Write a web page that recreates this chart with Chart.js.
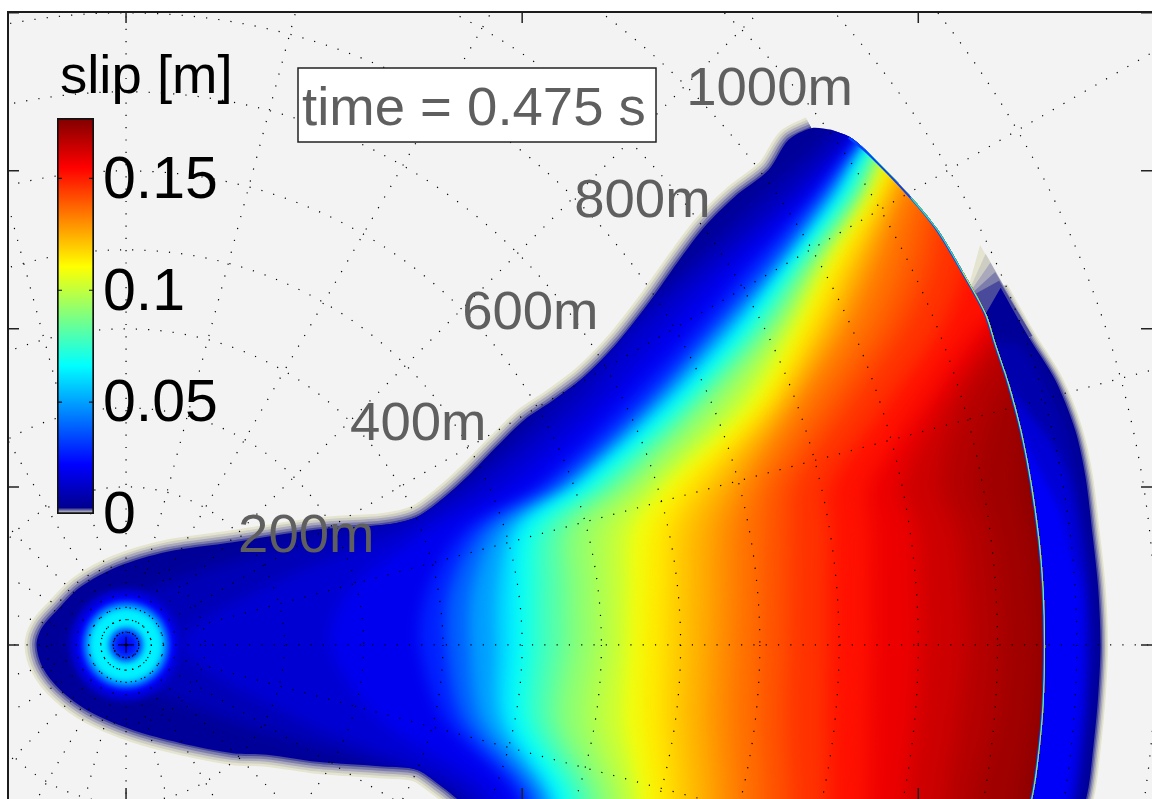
<!DOCTYPE html>
<html>
<head>
<meta charset="utf-8">
<title>slip map</title>
<style>
  html, body { margin: 0; background: #fff; }
  #wrap { position: relative; width: 1152px; height: 799px; overflow: hidden; }
  #wrap canvas { position: absolute; left: 0; top: 0; }
</style>
<script src="https://cdn.jsdelivr.net/npm/chart.js@4"></script>
</head>
<body>
<div id="wrap">
  <canvas id="map" width="1152" height="799"></canvas>
  <canvas id="bar" width="240" height="560"></canvas>
</div>
<script>
// axes, metres
const xTicks = [0, 500, 1000];
const yTicks = [-200, 0, 200, 400, 600, 800];
const ringRadii = [100, 200, 300, 400, 500, 600, 700, 800, 900, 1000, 1100, 1200, 1300];
const innerRings = [16, 32, 47];
const rayAngles = [0, 15, 30, 45, 60, 75, 90, 105, 120, 135, 150, 165, 180, 195, 210, 225, 240, 255, 270, 285, 300, 315, 330, 345];
const ringLabels = [200, 400, 600, 800, 1000];
const titleText = 'slip [m]';
const timeText = 'time = 0.475 s';

// colour bar
const slipMax = 0.177;
const barTicks = [0, 0.05, 0.1, 0.15];

// rupture outline, [x, y] in metres
const mainEdge = [[890,652],[865,654],[836,639],[811,601],[768,567],[730,529],[696,484],[663,437],[620,382],[578,339],[537,308],[503,285],[468,251],[436,218],[402,187],[367,162],[326,152],[241,146],[135,130],[52,118],[-11,99],[-58,73],[-87,44],[-106,22],[-113,0],[-105,-29],[-83,-57],[-45,-85],[9,-108],[68,-124],[135,-137],[178,-139],[241,-148],[326,-154],[367,-158],[393,-175],[417,-194],[460,-234],[598,-323]];
const mainFront = [[890,652],[913,643],[937,623],[991,567],[1025,525],[1056,473],[1085,420],[1098,380],[1114,332],[1130,272],[1143,205],[1153,133],[1158,73],[1160,0],[1158,-78],[1152,-142],[1144,-194],[1122,-272],[1050,-340]];
const lobeEdge = [[1104,452],[1139,390],[1173,335],[1198,272],[1211,213],[1220,139],[1227,73],[1230,0],[1227,-66],[1221,-129],[1212,-194],[1179,-285]];
const lobeInner = [[1104,-285],[1141,0],[1066,386]];
const lobeTips = [[1078,506],[1085,495],[1091,484],[1097,472],[1102,461]];
const lobeWedge = [[1144,391],[1104,373],[1059,437]];

// slip contours in the lobe ahead of the front
const lobeLevels = [0.004, 0.012, 0.019];
const lobeLine1 = [[1129,380],[1160,329],[1187,266],[1201,209],[1211,137],[1218,73],[1221,0],[1218,-66],[1212,-129],[1203,-194],[1167,-285]];
const lobeLine2 = [[1167,259],[1186,222],[1195,190],[1205,133],[1212,70],[1215,0],[1212,-70],[1206,-133],[1197,-194],[1160,-285]];
const lobeLine3 = [[1179,171],[1192,120],[1205,70],[1207,0],[1205,-70],[1198,-133],[1189,-194],[1154,-285]];

// slip contours of the main patch: x (m) where each level is crossed at each rowY
const rowY = [-195, -95, 0, 70, 146, 200, 300, 400, 475, 565, 627, 700];
const slipLevels = [0.005, 0.011, 0.016, 0.022, 0.034, 0.044, 0.055, 0.060, 0.066, 0.072, 0.078, 0.083, 0.089, 0.094, 0.099, 0.104, 0.111, 0.117, 0.122, 0.127, 0.133, 0.138, 0.143, 0.149, 0.155, 0.161, 0.166, 0.170, 0.173];
const line005 = [422,131,-71,30,270,415,529,624,706,800,870,946];
const line011 = [441,220,68,169,346,441,563,649,731,832,895,965];
const line016 = [466,321,258,283,384,479,595,684,756,851,908,971];
const line022 = [494,402,371,381,427,519,624,718,782,866,914,977];
const line034 = [510,425,405,409,448,538,649,740,803,876,922,984];
const line044 = [524,448,434,437,468,554,662,753,819,886,929,996];
const line055 = [537,470,465,466,487,567,675,766,828,895,934,1003];
const line060 = [543,481,480,481,496,573,682,773,832,899,937,1006];
const line066 = [549,492,494,495,505,578,688,779,836,903,939,1009];
const line072 = [562,508,512,512,520,591,699,789,843,909,944,1015];
const line078 = [574,523,529,529,535,604,710,798,850,915,949,1021];
const line083 = [587,538,548,548,551,617,720,808,857,922,954,1025];
const line089 = [600,554,566,566,566,630,730,817,864,928,958,1028];
const line094 = [616,578,589,589,590,646,747,826,871,933,963,1034];
const line099 = [631,601,611,611,614,662,763,835,878,937,968,1040];
const line104 = [647,626,632,633,637,679,781,845,885,942,973,1044];
const line111 = [663,650,652,654,660,696,799,855,891,946,977,1047];
const line117 = [689,679,681,683,688,720,813,870,906,956,987,1057];
const line122 = [715,707,710,711,715,744,826,885,920,965,996,1066];
const line127 = [742,735,738,740,743,767,839,900,935,975,1009,1076];
const line133 = [769,763,766,768,770,789,851,915,949,984,1021,1085];
const line138 = [803,798,800,802,804,813,879,947,981,1009,1047,1110];
const line143 = [838,833,836,837,838,842,908,978,1013,1034,1072,1135];
const line149 = [886,885,886,886,888,886,956,1028,1059,1091,1129,1179];
const line155 = [937,939,941,941,941,937,1004,1076,1154,1205,1230,1268];
const line161 = [984,996,1002,1000,996,977,1028,1104,1179,1230,1268,1306];
const line166 = [1034,1050,1061,1058,1050,1028,1053,1122,1198,1242,1280,1318];
const line170 = [1072,1097,1105,1101,1091,1072,1097,1154,1217,1255,1293,1331];
const line173 = [1129,1148,1155,1151,1141,1131,1141,1192,1242,1280,1318,1343];
const mainLines = [line005,line011,line016,line022,line034,line044,line055,line060,line066,line072,line078,line083,line089,line094,line099,line104,line111,line117,line122,line127,line133,line138,line143,line149,line155,line161,line166,line170,line173];

// rings of slip round the hypocentre: radius (m) and slip, outer to inner
const hypoRadii = [72, 66, 61, 56, 52, 48, 44, 24, 21, 18, 14, 9];
const hypoSlip = [0.011, 0.016, 0.022, 0.034, 0.044, 0.055, 0.064, 0.055, 0.044, 0.034, 0.028, 0.024];

const jetStops = [[0,[0,0,143]],[0.125,[0,0,255]],[0.375,[0,255,255]],[0.625,[255,255,0]],[0.875,[255,0,0]],[1,[128,0,0]]];
const haloColors = ['#e4e4d0', '#cdcdc4', '#a9a9bb', '#7d7dac', '#4a4a9c'];
const FONT = '"Liberation Sans", Arial, sans-serif';

function jet(slip){
  const t = Math.min(1, slip / slipMax);
  for(let i = 1; i < jetStops.length; i++){
    const [t1, c1] = jetStops[i];
    if(t <= t1){
      const [t0, c0] = jetStops[i-1];
      const f = (t - t0) / (t1 - t0);
      const c = c0.map((v, k) => Math.round(v + (c1[k] - v) * f));
      return `rgb(${c[0]},${c[1]},${c[2]})`;
    }
  }
  return 'rgb(128,0,0)';
}

const pts = list => list.map(p => ({x: p[0], y: p[1]}));

function shape(label, data, color, extra){
  return Object.assign({label, data, showLine: true, fill: 'shape', backgroundColor: color, borderWidth: 0, pointRadius: 0, tension: 0.3}, extra);
}
function stroke(label, data, color, width, extra){
  return Object.assign({label, data, showLine: true, fill: false, borderColor: color, borderWidth: width, borderJoinStyle: 'round', pointRadius: 0, tension: 0.3}, extra);
}

// draw order, bottom first
const layers = [];
const mainWidths = [24, 19, 14, 9, 4];
const lobeWidths = [15, 12, 9, 6, 3];
haloColors.forEach((c, i) => layers.push(stroke('halo' + i, pts(mainEdge.slice(1)), c, mainWidths[i])));
haloColors.forEach((c, i) => layers.push(stroke('lobeHalo' + i, pts(lobeEdge), c, lobeWidths[i])));
lobeTips.forEach((tip, i) => layers.push(shape('wedge' + i, pts([tip].concat(lobeWedge, [tip])), haloColors[i], {tension: 0})));
layers.push(shape('lobeBase', pts(lobeEdge.concat(lobeInner)), jet(0.002)));
[lobeLine1, lobeLine2, lobeLine3].forEach((line, i) => {
  layers.push(shape('lobe' + i, pts(line.concat(lobeInner)), jet(lobeLevels[i] + 0.002), {clipTo: 'lobeBase', blurPx: 4}));
});
layers.push(shape('mainBase', pts(mainEdge.concat(mainFront.slice().reverse())), jet(0.002)));
mainLines.forEach((line, i) => {
  const next = i + 1 < slipLevels.length ? slipLevels[i+1] : slipLevels[i] + 0.004;
  const data = [{x: 1400, y: -300}, {x: line[0], y: -300}]
    .concat(rowY.map((y, j) => ({x: line[j], y})))
    .concat([{x: 1400, y: 700}, {x: 1400, y: -300}]);
  layers.push(shape('slip' + slipLevels[i], data, jet((slipLevels[i] + next) / 2), {clipTo: 'mainBase', blurPx: slipLevels[i] < 0.111 ? 7 : 10}));
});
hypoRadii.forEach((r, i) => {
  layers.push({label: 'hypo' + i, data: [{x: 0, y: 0}], showLine: false, backgroundColor: jet(hypoSlip[i]), borderWidth: 0,
    pointRadius: ctx => r * (ctx.chart.scales.x.getPixelForValue(1) - ctx.chart.scales.x.getPixelForValue(0)),
    clipTo: 'mainBase', blurPx: 2.5});
});
layers.push(stroke('front0', pts(mainFront.slice(1)), '#0040ff', 4, {clipTo: 'mainBase'}));
layers.push(stroke('front1', pts(mainFront.slice(3)), '#20e0d0', 2.4, {clipTo: 'mainBase'}));
layers.push(stroke('front2', pts(mainFront.slice(5)), '#d8e840', 1.2, {clipTo: 'mainBase'}));

// datasets paint from last to first
const mapDatasets = layers.slice().reverse();

let activeClip = null;
function applyLayer(chart, index){
  const ds = chart.data.datasets[index];
  if(!ds) return;
  const ctx = chart.ctx;
  const want = ds.clipTo || null;
  if(want !== activeClip){
    if(activeClip) ctx.restore();
    activeClip = want;
    if(want){
      const i = chart.data.datasets.findIndex(d => d.label === want);
      ctx.save();
      ctx.beginPath();
      chart.getDatasetMeta(i).dataset.path(ctx);
      ctx.closePath();
      ctx.clip();
    }
  }
  ctx.filter = ds.blurPx ? `blur(${ds.blurPx}px)` : 'none';
}

const layerPlugin = {
  id: 'layers',
  beforeDatasetsDraw(chart){
    activeClip = null;
    applyLayer(chart, chart.data.datasets.length - 1);
  },
  afterDatasetDraw(chart, args){
    applyLayer(chart, args.index - 1);
  },
  afterDatasetsDraw(chart){
    const ctx = chart.ctx;
    if(activeClip) ctx.restore();
    activeClip = null;
    ctx.filter = 'none';
  }
};

const framePlugin = {
  id: 'frame',
  beforeDraw(chart){
    const {ctx, chartArea: a} = chart;
    ctx.save();
    ctx.fillStyle = '#f3f3f3';
    ctx.fillRect(a.left, a.top, a.right - a.left, a.bottom - a.top);
    ctx.restore();
  },
  afterDraw(chart){
    const {ctx, chartArea: a, scales: {x, y}} = chart;
    const cx = x.getPixelForValue(0), cy = y.getPixelForValue(0);
    const sx = x.getPixelForValue(1) - cx, sy = cy - y.getPixelForValue(1);
    const far = 2000;
    ctx.save();
    ctx.beginPath();
    ctx.rect(a.left, a.top, a.right - a.left, a.bottom - a.top);
    ctx.clip();
    ctx.strokeStyle = '#000';
    ctx.lineWidth = 1.2;
    // polar grid
    ctx.setLineDash([1.2, 11.1]);
    rayAngles.forEach(deg => {
      const r = deg * Math.PI / 180;
      ctx.beginPath();
      ctx.moveTo(cx, cy);
      ctx.lineTo(cx + far * Math.cos(r), cy - far * Math.sin(r));
      ctx.stroke();
    });
    ringRadii.forEach(r => {
      ctx.beginPath();
      ctx.ellipse(cx, cy, r * sx, r * sy, 0, 0, Math.PI * 2);
      ctx.stroke();
    });
    innerRings.forEach((r, i) => {
      ctx.setLineDash([1.2, 4.3 + i * 2.5]);
      ctx.beginPath();
      ctx.ellipse(cx, cy, r * sx, r * sy, 0, 0, Math.PI * 2);
      ctx.stroke();
    });
    ctx.setLineDash([]);
    // hypocentre cross
    ctx.lineWidth = 1;
    ctx.beginPath();
    ctx.moveTo(cx - 8, cy); ctx.lineTo(cx + 8, cy);
    ctx.moveTo(cx, cy - 8); ctx.lineTo(cx, cy + 8);
    ctx.stroke();
    // inward ticks
    ctx.strokeStyle = '#222';
    ctx.lineWidth = 1.5;
    ctx.beginPath();
    xTicks.forEach(v => {
      const p = x.getPixelForValue(v);
      ctx.moveTo(p, a.top); ctx.lineTo(p, a.top + 11);
      ctx.moveTo(p, a.bottom); ctx.lineTo(p, a.bottom - 11);
    });
    yTicks.forEach(v => {
      const p = y.getPixelForValue(v);
      ctx.moveTo(a.left, p); ctx.lineTo(a.left + 11, p);
      ctx.moveTo(a.right, p); ctx.lineTo(a.right - 11, p);
    });
    ctx.stroke();
    ctx.restore();

    // box, cut off by the picture on the right and at the bottom
    ctx.save();
    ctx.strokeStyle = '#1c1c1c';
    ctx.lineWidth = 2;
    ctx.beginPath();
    ctx.moveTo(a.left, a.bottom + 2); ctx.lineTo(a.left, a.top); ctx.lineTo(a.right + 2, a.top);
    ctx.stroke();
    ctx.restore();

    // text
    ctx.save();
    ctx.textBaseline = 'alphabetic';
    ctx.textAlign = 'left';
    ctx.font = `54.5px ${FONT}`;
    ctx.fillStyle = '#5f5f5f';
    ringLabels.forEach(r => {
      const d = r * Math.SQRT1_2;
      ctx.fillText(r + 'm', x.getPixelForValue(d), y.getPixelForValue(d) + 19);
    });
    ctx.fillStyle = '#fff';
    ctx.strokeStyle = '#222';
    ctx.lineWidth = 1.5;
    ctx.fillRect(298, 68, 358, 74);
    ctx.strokeRect(298, 68, 358, 74);
    ctx.fillStyle = '#5f5f5f';
    ctx.fillText(timeText, 302, 125);
    ctx.fillStyle = '#000';
    ctx.fillText(titleText, 60, 93);
    ctx.restore();
  }
};

new Chart(document.getElementById('map'), {
  type: 'scatter',
  data: {datasets: mapDatasets},
  plugins: [layerPlugin, framePlugin],
  options: {
    responsive: false,
    animation: false,
    events: [],
    layout: {padding: {left: 8, top: 12, right: 0, bottom: 0}},
    elements: {line: {capBezierPoints: false}},
    plugins: {legend: {display: false}, tooltip: {enabled: false}},
    scales: {
      x: {type: 'linear', min: -149, max: 1295, display: false},
      y: {type: 'linear', min: -195, max: 801, display: false}
    }
  }
});

function barGradient(ctx){
  const {chart} = ctx;
  const a = chart.chartArea;
  if(!a) return '#000';
  const g = chart.ctx.createLinearGradient(0, a.bottom, 0, a.top);
  g.addColorStop(0, haloColors[0]);
  g.addColorStop(0.006, haloColors[2]);
  g.addColorStop(0.012, haloColors[4]);
  g.addColorStop(0.016, 'rgb(0,0,143)');
  jetStops.slice(1).forEach(s => g.addColorStop(s[0], `rgb(${s[1].join(',')})`));
  return g;
}

const barTickPlugin = {
  id: 'barTicks',
  afterDatasetsDraw(chart){
    const {ctx, chartArea: a, scales: {y}} = chart;
    ctx.save();
    ctx.strokeStyle = '#111';
    ctx.lineWidth = 1.2;
    ctx.beginPath();
    barTicks.slice(1).forEach(v => {
      const p = y.getPixelForValue(v);
      ctx.moveTo(a.left, p); ctx.lineTo(a.left + 5, p);
      ctx.moveTo(a.right, p); ctx.lineTo(a.right - 5, p);
    });
    ctx.stroke();
    ctx.restore();
  }
};

new Chart(document.getElementById('bar'), {
  type: 'bar',
  data: {
    labels: ['slip'],
    datasets: [{data: [[0, slipMax]], backgroundColor: barGradient, borderColor: '#111', borderWidth: 2, borderSkipped: false, barPercentage: 1, categoryPercentage: 1}]
  },
  plugins: [barTickPlugin],
  options: {
    responsive: false,
    animation: false,
    events: [],
    layout: {padding: {left: 57, top: 118, right: 0, bottom: 46}},
    plugins: {legend: {display: false}, tooltip: {enabled: false}},
    scales: {
      x: {display: false},
      y: {
        position: 'right',
        min: 0,
        max: slipMax,
        afterBuildTicks: axis => { axis.ticks = barTicks.map(value => ({value})); },
        afterFit: axis => { axis.width = 146; },
        grid: {display: false, drawTicks: false},
        border: {display: false},
        ticks: {
          color: '#000',
          padding: 9,
          labelOffset: 3,
          autoSkip: false,
          maxRotation: 0,
          font: {family: 'Liberation Sans', size: 59},
          callback: value => String(value)
        }
      }
    }
  }
});
</script>
</body>
</html>
